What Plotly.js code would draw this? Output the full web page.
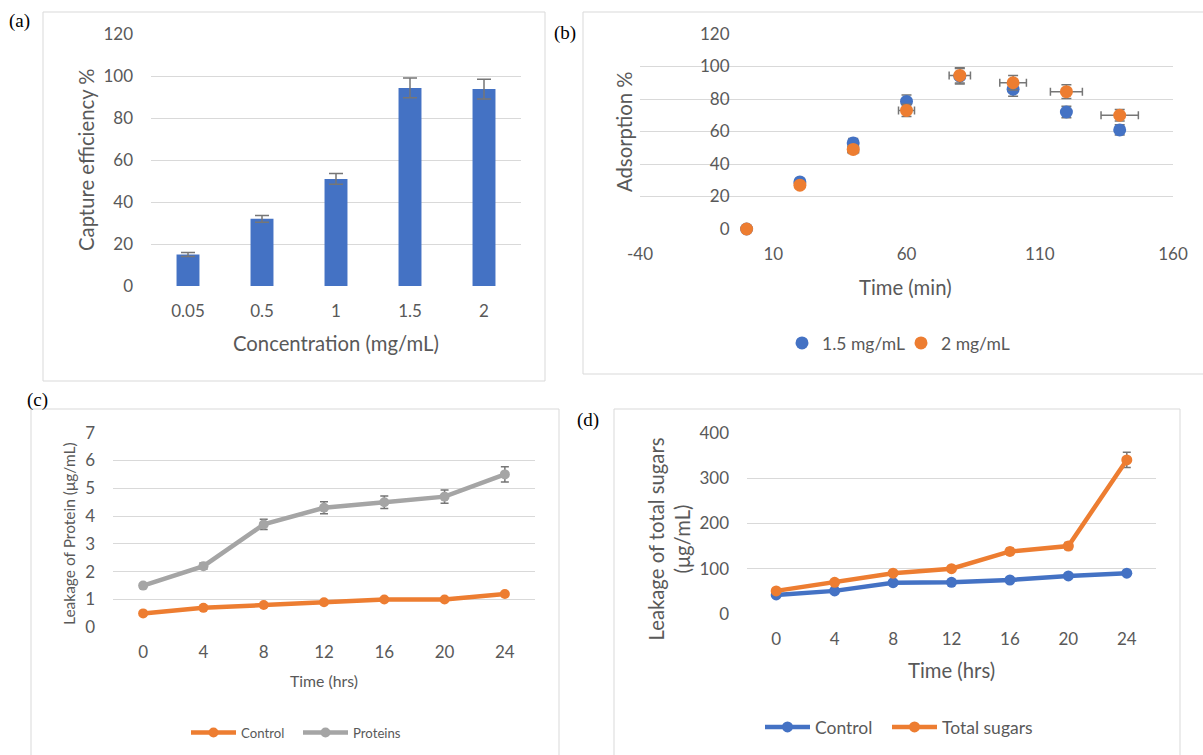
<!DOCTYPE html>
<html><head><meta charset="utf-8">
<script src="https://cdn.plot.ly/plotly-3.0.1.min.js"></script>
<style>html,body{margin:0;padding:0;background:#fff;} #chart{width:1203px;height:755px;}</style>
</head><body><div id="chart"></div>
<script>
// ---------- DATA ----------
// (a) capture efficiency
const concLabels = ['0.05', '0.5', '1', '1.5', '2'];
const captureEff = [15, 32, 51, 94.3, 93.8];
const captureErr = [0.9, 1.6, 2.6, 4.7, 4.7];

// (b) adsorption vs time
const adsTime = [0, 20, 40, 60, 80, 100, 120, 140];
const ads15 = [0, 29, 53, 78.5, 94, 86, 72, 61];
const ads15ErrY = [0, 1.5, 2.7, 3.9, 4.7, 4.3, 3.6, 3.1];
const ads2 = [0, 27, 49, 73, 94.5, 90, 84.5, 70];
const ads2ErrY = [0, 1.4, 2.5, 3.7, 4.7, 4.5, 4.2, 3.5];
const ads2ErrX = [0, 1, 2, 3, 4, 5, 6, 7];
const timeTickVals = [-40, 10, 60, 110, 160];
const timeTickText = ['-40', '10', '60', '110', '160'];

// (c) protein leakage
const hrsLabels = ['0', '4', '8', '12', '16', '20', '24'];
const protControl = [0.5, 0.7, 0.8, 0.9, 1.0, 1.0, 1.2];
const protControlErr = [0.025, 0.035, 0.04, 0.045, 0.05, 0.05, 0.06];
const proteins = [1.5, 2.2, 3.7, 4.3, 4.5, 4.7, 5.5];
const proteinsErr = [0.075, 0.11, 0.185, 0.215, 0.225, 0.235, 0.275];

// (d) total sugars leakage
const sugControl = [42, 51, 69, 70, 75, 84, 90];
const sugControlErr = [2.1, 2.6, 3.5, 3.5, 3.8, 4.2, 4.5];
const totalSugars = [51, 70, 90, 100, 138, 150, 340];
const totalSugarsErr = [2.6, 3.5, 4.5, 5, 6.9, 7.5, 17];

// ---------- STYLE ----------
const W = 1203, H = 755;
const fx = x => x / W;
const fy = y => 1 - y / H;
const FONT = 'Lato, "Open Sans", sans-serif';
const TXT = '#595959';
const GRID = '#D9D9D9';
const BLUE = '#4472C4', ORANGE = '#ED7D31', GRAY = '#A5A5A5';
const ERR = '#767676';
const TITLE = 20.3;

const tickFont = {family: FONT, size: 17, color: TXT};

const traces = [
  {type: 'bar', x: concLabels, y: captureEff, xaxis: 'x', yaxis: 'y',
   marker: {color: BLUE}, showlegend: false,
   error_y: {type: 'data', array: captureErr, visible: true, color: ERR, thickness: 1.5, width: 7}},

  {type: 'scatter', mode: 'markers', name: '1.5 mg/mL', x: adsTime, y: ads15, xaxis: 'x2', yaxis: 'y2',
   marker: {color: BLUE, size: 13}, legend: 'legend', cliponaxis: false,
   error_y: {type: 'data', array: ads15ErrY, visible: true, color: ERR, thickness: 1.5, width: 5}},
  {type: 'scatter', mode: 'markers', name: '2 mg/mL', x: adsTime, y: ads2, xaxis: 'x2', yaxis: 'y2',
   marker: {color: ORANGE, size: 13}, legend: 'legend2', cliponaxis: false,
   error_y: {type: 'data', array: ads2ErrY, visible: true, color: ERR, thickness: 1.5, width: 5},
   error_x: {type: 'data', array: ads2ErrX, visible: true, color: ERR, thickness: 1.5, width: 4}},

  {type: 'scatter', mode: 'lines+markers', name: 'Control', x: hrsLabels, y: protControl, xaxis: 'x3', yaxis: 'y3',
   line: {color: ORANGE, width: 4.5}, marker: {color: ORANGE, size: 10}, legend: 'legend3',
   error_y: {type: 'data', array: protControlErr, visible: true, color: ERR, thickness: 1.5, width: 4}},
  {type: 'scatter', mode: 'lines+markers', name: 'Proteins', x: hrsLabels, y: proteins, xaxis: 'x3', yaxis: 'y3',
   line: {color: GRAY, width: 4.5}, marker: {color: GRAY, size: 10}, legend: 'legend4',
   error_y: {type: 'data', array: proteinsErr, visible: true, color: ERR, thickness: 1.5, width: 4}},

  {type: 'scatter', mode: 'lines+markers', name: 'Control', x: hrsLabels, y: sugControl, xaxis: 'x4', yaxis: 'y4',
   line: {color: BLUE, width: 4.5}, marker: {color: BLUE, size: 11}, legend: 'legend5',
   error_y: {type: 'data', array: sugControlErr, visible: true, color: ERR, thickness: 1.5, width: 4}},
  {type: 'scatter', mode: 'lines+markers', name: 'Total sugars', x: hrsLabels, y: totalSugars, xaxis: 'x4', yaxis: 'y4',
   line: {color: ORANGE, width: 4.5}, marker: {color: ORANGE, size: 11}, legend: 'legend6',
   error_y: {type: 'data', array: totalSugarsErr, visible: true, color: ERR, thickness: 1.5, width: 4}}
];

const yBase = {gridcolor: GRID, gridwidth: 1, zeroline: false, showline: false, ticks: '',
  tickfont: tickFont, ticklabelstandoff: 17, fixedrange: true};
const xBase = {showgrid: false, zeroline: false, showline: false, ticks: '',
  tickfont: tickFont, ticklabelstandoff: 13, fixedrange: true};

function frame(x0, y0, x1, y1) {
  return {type: 'rect', xref: 'paper', yref: 'paper', x0: fx(x0), x1: fx(x1), y0: fy(y1), y1: fy(y0),
    line: {color: GRID, width: 1}, fillcolor: 'rgba(0,0,0,0)', layer: 'below'};
}
function label(text, x, y) {
  return {text: text, x: fx(x), y: fy(y), xref: 'paper', yref: 'paper', showarrow: false,
    xanchor: 'center', yanchor: 'middle', font: {family: '"Liberation Serif", "Times New Roman", serif', size: 19, color: '#000'}};
}
function atitle(text, x, y, size, rot) {
  return {text: text, x: fx(x), y: fy(y), xref: 'paper', yref: 'paper', showarrow: false,
    xanchor: 'center', yanchor: 'middle', textangle: rot || 0,
    font: {family: FONT, size: size, color: TXT}};
}
function legendBox(x, y, size, iw) {
  return {orientation: 'h', x: fx(x), xanchor: 'left', y: fy(y), yanchor: 'middle',
    font: {family: FONT, size: size, color: TXT}, bgcolor: 'rgba(0,0,0,0)',
    itemwidth: iw, borderwidth: 0};
}

const layout = {
  width: W, height: H, autosize: false,
  margin: {l: 0, r: 0, t: 0, b: 0, pad: 0},
  paper_bgcolor: '#fff', plot_bgcolor: 'rgba(0,0,0,0)',
  font: {family: FONT, color: TXT},
  bargap: 0.69,
  xaxis: Object.assign({}, xBase, {domain: [fx(151), fx(521)], anchor: 'y', type: 'category', range: [-0.5, 4.5]}),
  yaxis: Object.assign({}, yBase, {domain: [fy(286), fy(34)], anchor: 'x', range: [0, 120], dtick: 20, tick0: 0}),

  xaxis2: Object.assign({}, xBase, {domain: [fx(640), fx(1173)], anchor: 'y2', range: [-40, 160],
    tickmode: 'array', tickvals: timeTickVals, ticktext: timeTickText}),
  yaxis2: Object.assign({}, yBase, {domain: [fy(229), fy(34)], anchor: 'free', position: fx(640 + 533 * 0.2), range: [0, 120], dtick: 20, tick0: 0}),

  xaxis3: Object.assign({}, xBase, {domain: [fx(113), fx(535)], anchor: 'y3', type: 'category', range: [-0.5, 6.5]}),
  yaxis3: Object.assign({}, yBase, {domain: [fy(627.3), fy(432.7)], anchor: 'x3', range: [0, 7], dtick: 1, tick0: 0}),

  xaxis4: Object.assign({}, xBase, {domain: [fx(747), fx(1156)], anchor: 'y4', type: 'category', range: [-0.5, 6.5]}),
  yaxis4: Object.assign({}, yBase, {domain: [fy(614), fy(432.7)], anchor: 'x4', range: [0, 400], dtick: 100, tick0: 0}),

  legend: legendBox(782, 343, 17.5, 30),
  legend2: legendBox(901, 343, 17.5, 30),
  legend3: legendBox(186, 733, 13.2, 45),
  legend4: legendBox(298, 733, 13.2, 45),
  legend5: legendBox(760, 727, 17.5, 45),
  legend6: legendBox(887, 727, 17.5, 45),

  shapes: [
    frame(43, 12, 545, 381),
    frame(583, 12, 1215, 374),
    frame(31, 409, 559, 770),
    frame(614, 409, 1180, 770)
  ],
  annotations: [
    label('(a)', 19, 21), label('(b)', 565, 33), label('(c)', 37, 400), label('(d)', 588, 420),
    atitle('Concentration (mg/mL)', 336, 343, TITLE),
    atitle('Capture efficiency %', 86, 160, TITLE, -90),
    atitle('Time (min)', 906, 287, TITLE),
    atitle('Adsorption %', 624, 132, TITLE, -90),
    atitle('Time (hrs)', 323.5, 680, 15.8),
    atitle('Leakage of Protein (μg/mL)', 69, 534, 15.5, -90),
    atitle('Time (hrs)', 951.5, 670, TITLE),
    atitle('Leakage of total sugars<br>(μg/mL)', 668.5, 539, TITLE, -90)
  ]
};

Plotly.newPlot('chart', traces, layout, {displayModeBar: false, staticPlot: true});
</script>
</body></html>
